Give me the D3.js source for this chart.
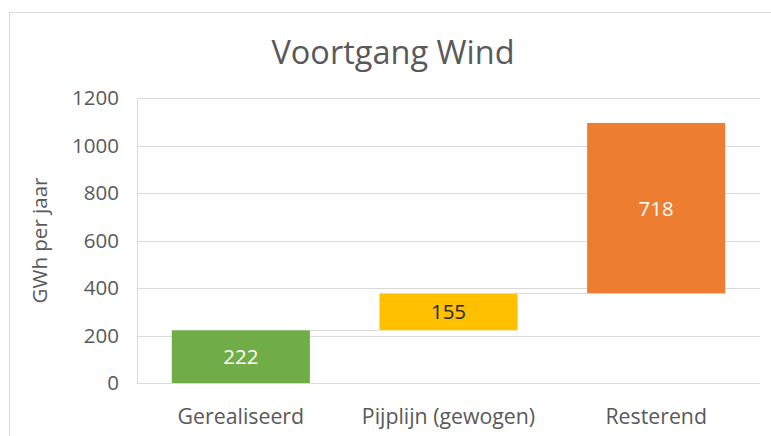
<!DOCTYPE html>
<html>
<head>
<meta charset="utf-8">
<script src="https://cdn.jsdelivr.net/npm/d3@7"></script>
<style>
  body { margin: 0; background: #fff; }
  text { font-family: "Open Sans", sans-serif; }
</style>
</head>
<body>
<div id="chart"></div>
<script>
// waterfall data
var categories = ['Gerealiseerd', 'Pijplijn (gewogen)', 'Resterend'];
var values = [222, 155, 718];
var colors = ['#70AD47', '#FFC000', '#ED7D31'];
var labelColors = ['#ffffff', '#262626', '#ffffff'];
var yTicks = [0, 200, 400, 600, 800, 1000, 1200];

var width = 771, height = 436;
var margin = { left: 137, right: 11, top: 98, bottom: 53 };

var svg = d3.select('#chart').append('svg')
    .attr('width', width).attr('height', height);

// chart border
svg.append('rect')
    .attr('x', 9.5).attr('y', 12.5)
    .attr('width', width).attr('height', height)
    .attr('fill', 'none').attr('stroke', '#d9d9d9').attr('stroke-width', 1);

var x = d3.scaleBand()
    .domain(categories)
    .range([margin.left, width - margin.right])
    .paddingInner(0.335).paddingOuter(0.1675);

var y = d3.scaleLinear()
    .domain([0, 1200])
    .range([height - margin.bottom, margin.top]);

// running totals
var starts = [], total = 0;
values.forEach(function(v) { starts.push(total); total += v; });

// gridlines
svg.append('g').selectAll('line').data(yTicks).enter().append('line')
    .attr('x1', margin.left).attr('x2', width - margin.right)
    .attr('y1', function(d) { return Math.round(y(d)) + 0.5; })
    .attr('y2', function(d) { return Math.round(y(d)) + 0.5; })
    .attr('stroke', '#d9d9d9').attr('stroke-width', 1);

// left axis line
svg.append('line')
    .attr('x1', margin.left + 0.5).attr('x2', margin.left + 0.5)
    .attr('y1', y(1200)).attr('y2', y(0))
    .attr('stroke', '#d9d9d9');

// tick labels
svg.append('g').selectAll('text').data(yTicks).enter().append('text')
    .attr('x', 119).attr('y', function(d) { return y(d); })
    .attr('dy', '0.36em')
    .attr('text-anchor', 'end')
    .attr('font-size', 20.5).attr('fill', '#595959')
    .text(function(d) { return d; });

// connector lines
for (var i = 0; i < values.length - 1; i++) {
  var cy = Math.round(y(starts[i] + values[i])) + 0.5;
  svg.append('line')
      .attr('x1', x(categories[i]) + x.bandwidth())
      .attr('x2', x(categories[i + 1]))
      .attr('y1', cy).attr('y2', cy)
      .attr('stroke', '#d9d9d9');
}

// bars
svg.append('g').selectAll('rect').data(values).enter().append('rect')
    .attr('x', function(d, i) { return x(categories[i]); })
    .attr('width', x.bandwidth())
    .attr('y', function(d, i) { return y(starts[i] + d); })
    .attr('height', function(d, i) { return y(starts[i]) - y(starts[i] + d); })
    .attr('fill', function(d, i) { return colors[i]; });

// bar labels
svg.append('g').selectAll('text').data(values).enter().append('text')
    .attr('x', function(d, i) { return x(categories[i]) + x.bandwidth() / 2; })
    .attr('y', function(d, i) { return y(starts[i] + d / 2); })
    .attr('dy', '0.36em')
    .attr('text-anchor', 'middle')
    .attr('font-size', 20.5)
    .attr('fill', function(d, i) { return labelColors[i]; })
    .text(function(d) { return d; });

// category labels
svg.append('g').selectAll('text').data(categories).enter().append('text')
    .attr('x', function(d) { return x(d) + x.bandwidth() / 2; })
    .attr('y', 424)
    .attr('text-anchor', 'middle')
    .attr('font-size', 21.3).attr('fill', '#595959')
    .text(function(d) { return d; });

// axis title
svg.append('text')
    .attr('transform', 'translate(47,' + (y(600)) + ') rotate(-90)')
    .attr('text-anchor', 'middle')
    .attr('font-size', 20.5).attr('fill', '#595959')
    .text('GWh per jaar');

// title
svg.append('text')
    .attr('x', 393).attr('y', 64)
    .attr('text-anchor', 'middle')
    .attr('font-size', 32.5).attr('fill', '#595959')
    .text('Voortgang Wind');
</script>
</body>
</html>
